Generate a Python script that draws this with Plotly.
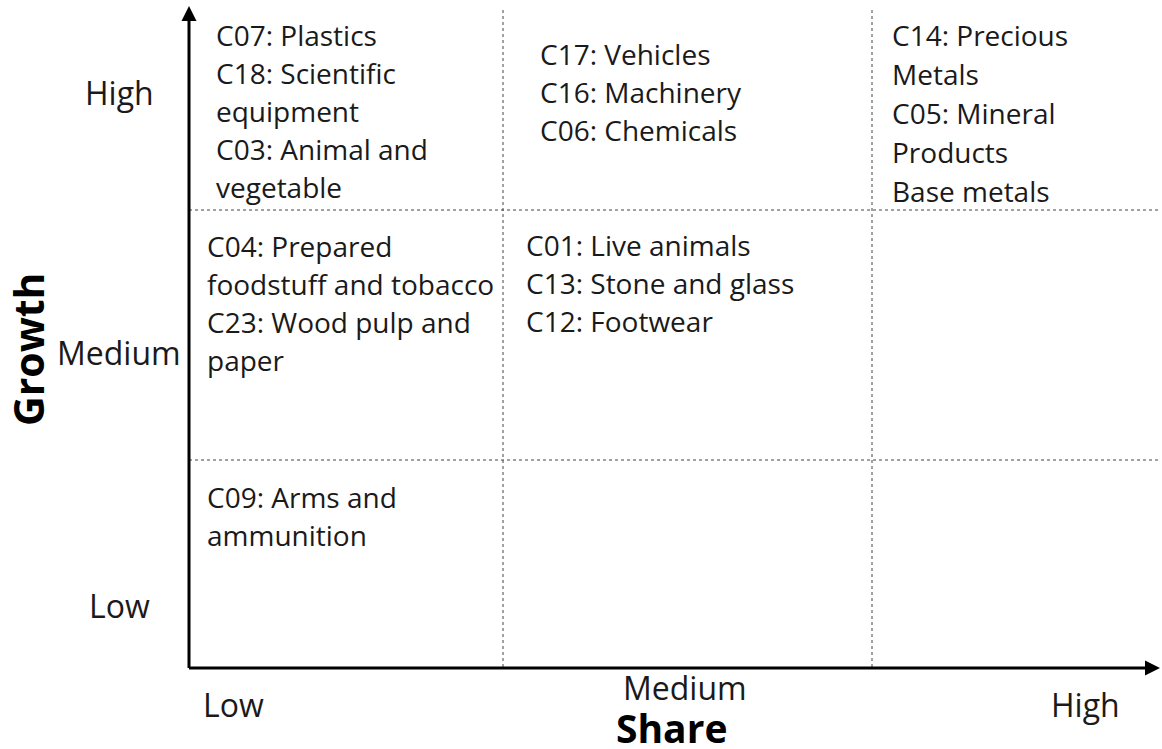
import plotly.graph_objects as go

# Growth-share matrix: product groups by level of share (x) and growth (y)
share_levels = ["Low", "Medium", "High"]
growth_levels = ["Low", "Medium", "High"]

high_low = ["C07: Plastics", "C18: Scientific", "equipment", "C03: Animal and", "vegetable"]
high_medium = ["C17: Vehicles", "C16: Machinery", "C06: Chemicals"]
high_high = ["C14: Precious", "Metals", "C05: Mineral", "Products", "Base metals"]
medium_low = ["C04: Prepared", "foodstuff and tobacco", "C23: Wood pulp and", "paper"]
medium_medium = ["C01: Live animals", "C13: Stone and glass", "C12: Footwear"]
low_low = ["C09: Arms and", "ammunition"]

FONT = "Open Sans"
TXT = "#1a1a1a"
W, H = 1162, 749

# layout geometry (page pixels)
x0, x1 = 189, 1162          # axis origin / arrow tip
y0, y1 = 668, 6
col_edges = [503, 872]
row_edges = [210, 460]

fig = go.Figure()

shapes = []
for cx in col_edges:
    shapes.append(dict(type="line", x0=cx, x1=cx, y0=10, y1=y0,
                       line=dict(color="#444", width=1, dash="dot")))
for ry in row_edges:
    shapes.append(dict(type="line", x0=x0, x1=1160, y0=ry, y1=ry,
                       line=dict(color="#444", width=1, dash="dot")))

ann = []
# axes with arrows
ann.append(dict(x=x0, y=y1, ax=x0, ay=y0 + 1.5, xref="x", yref="y", axref="x", ayref="y",
                showarrow=True, arrowhead=2, arrowsize=1, arrowwidth=3, arrowcolor="black", text=""))
ann.append(dict(x=x1 - 2, y=y0, ax=x0 - 1.5, ay=y0, xref="x", yref="y", axref="x", ayref="y",
                showarrow=True, arrowhead=2, arrowsize=1, arrowwidth=3, arrowcolor="black", text=""))


def cell(lines, x, y, step=38):
    for i, t in enumerate(lines):
        ann.append(dict(x=x, y=y + i * step, text=t, showarrow=False, xanchor="left",
                        yanchor="middle", font=dict(family=FONT, size=28, color=TXT)))


cell(high_low, 214, 35)
cell(high_medium, 538, 54)
cell(high_high, 890, 35, 39)
cell(medium_low, 205, 246)
cell(medium_medium, 524, 245)
cell(low_low, 205, 497)

# axis level labels
for lab, yy in zip(growth_levels, [605, 352, 92]):
    ann.append(dict(x=119, y=yy, text=lab, showarrow=False, xanchor="center", yanchor="middle",
                    font=dict(family=FONT, size=32, color=TXT)))
for lab, xx, yy in zip(share_levels, [233, 685, 1085], [704, 687, 704]):
    ann.append(dict(x=xx, y=yy, text=lab, showarrow=False, xanchor="center", yanchor="middle",
                    font=dict(family=FONT, size=32, color=TXT)))

ann.append(dict(x=671, y=727, text="<b>Share</b>", showarrow=False, xanchor="center", yanchor="middle",
                font=dict(family=FONT, size=39, color="black")))
ann.append(dict(x=28, y=349, text="<b>Growth</b>", showarrow=False, textangle=-90,
                xanchor="center", yanchor="middle", font=dict(family=FONT, size=41, color="black")))

fig.update_layout(
    width=W, height=H,
    margin=dict(l=0, r=0, t=0, b=0),
    paper_bgcolor="white", plot_bgcolor="white",
    xaxis=dict(range=[0, W], visible=False, fixedrange=True),
    yaxis=dict(range=[H, 0], visible=False, fixedrange=True),
    shapes=shapes, annotations=ann, showlegend=False,
)

fig.write_html("out.html", config={"displayModeBar": False},
               post_script="document.body.style.margin='0';")
